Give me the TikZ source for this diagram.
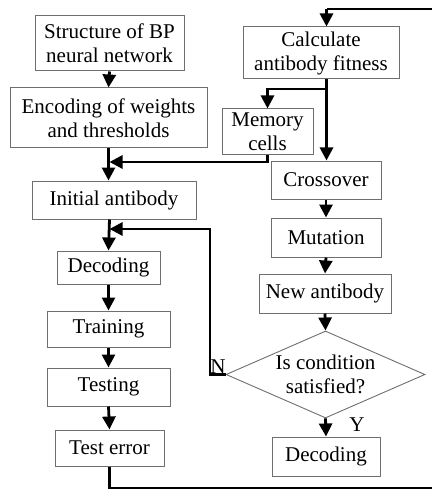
\documentclass[tikz,border=0pt]{standalone}
\usepackage{fontspec}
\setmainfont{Liberation Serif}
\usetikzlibrary{arrows.meta,positioning,shapes.geometric}
\usepackage{xcolor}
\definecolor{ink}{HTML}{000000}
\definecolor{frame}{HTML}{6E6E6E}
\tikzset{
  base/.style={font=\fontsize{21}{24}\selectfont, text=ink},
  box/.style={base, draw=frame, line width=1pt, fill=white, align=center, inner sep=2pt},
  decision/.style={base, draw=frame, line width=0.9pt, shape=diamond, aspect=2.3, inner sep=0pt, align=center},
  arrow/.style={-{Triangle[length=13pt,width=13pt]}, line width=2.8pt, draw=ink},
  link/.style={line width=2.8pt, draw=ink},
  lbl/.style={base},
}

\begin{document}
\begin{tikzpicture}[x=1pt,y=-1pt]
  \useasboundingbox (0,0) rectangle (431,489);

  % left column
  \node[box,minimum width=149pt,minimum height=55pt] (struct) at (109.5,43.5) {Structure of BP\\neural network};
  \node[box,minimum width=197pt,minimum height=60pt] (encode) at (108.5,118) {Encoding of weights\\and thresholds};
  \node[box,minimum width=164pt,minimum height=38pt] (init) at (114,200) {Initial antibody};
  \node[box,minimum width=103pt,minimum height=33pt] (dec1) at (108.5,267.5) {Decoding};
  \node[box,minimum width=123pt,minimum height=36pt] (train) at (108.5,329) {Training};
  \node[box,minimum width=123pt,minimum height=38pt] (test) at (108.5,387) {Testing};
  \node[box,minimum width=109pt,minimum height=36pt] (err) at (109.5,448) {Test error};

  % right column
  \node[box,minimum width=156pt,minimum height=52pt] (calc) at (321,53) {Calculate\\antibody fitness};
  \node[box,minimum width=91pt,minimum height=46pt] (mem) at (267.5,132) {Memory\\cells};
  \node[box,minimum width=110pt,minimum height=38pt] (cross) at (326,180) {Crossover};
  \node[box,minimum width=110pt,minimum height=39pt] (mut) at (326,237.5) {Mutation};
  \node[box,minimum width=132pt,minimum height=39pt] (newab) at (325,293.5) {New antibody};
  \node[decision,minimum width=199pt,minimum height=87pt] (cond) at (325.5,374.5) {Is condition\\satisfied?};
  \node[box,minimum width=108pt,minimum height=39pt] (dec2) at (326,456.5) {Decoding};

  \node[lbl] (nlab) at (218,367) {N};
  \node[lbl] (ylab) at (357,425) {Y};

  \coordinate (join1) at (109.5,162);
  \coordinate (join2) at (109.5,229);
  \coordinate (loopA) at (109.5,488.5);
  \coordinate (loopB) at (445,488.5);
  \coordinate (loopC) at (445,9);
  \coordinate (top) at (326.5,9);
  \coordinate (split) at (326.5,89);

  \draw[arrow] (struct.south) -- (encode.north);
  \draw[arrow] (encode.south) -- (encode.south |- init.north);
  \draw[arrow] (mem.south) |- (join1);
  \draw[arrow] (join1 |- init.south) -- (dec1.north);
  \draw[arrow] (cond.west) -| (210,229) -- (join2);
  \draw[arrow] (dec1.south) -- (train.north);
  \draw[arrow] (train.south) -- (test.north);
  \draw[arrow] (test.south) -- (err.north);
  \draw[link] (err.south -| loopA) -- (loopA) -- (loopB) -- (loopC) -- (top);
  \draw[arrow] (top) -- (top |- calc.north);
  \draw[arrow] (top |- calc.south) -- (top |- cross.north);
  \draw[arrow] (split) -| (mem.north);
  \draw[arrow] (cross.south) -- (mut.north);
  \draw[arrow] (mut.south) -- (newab.north);
  \draw[arrow] (newab.south) -- (cond.north);
  \draw[arrow] (cond.south) -- (dec2.north);
\end{tikzpicture}
\end{document}
